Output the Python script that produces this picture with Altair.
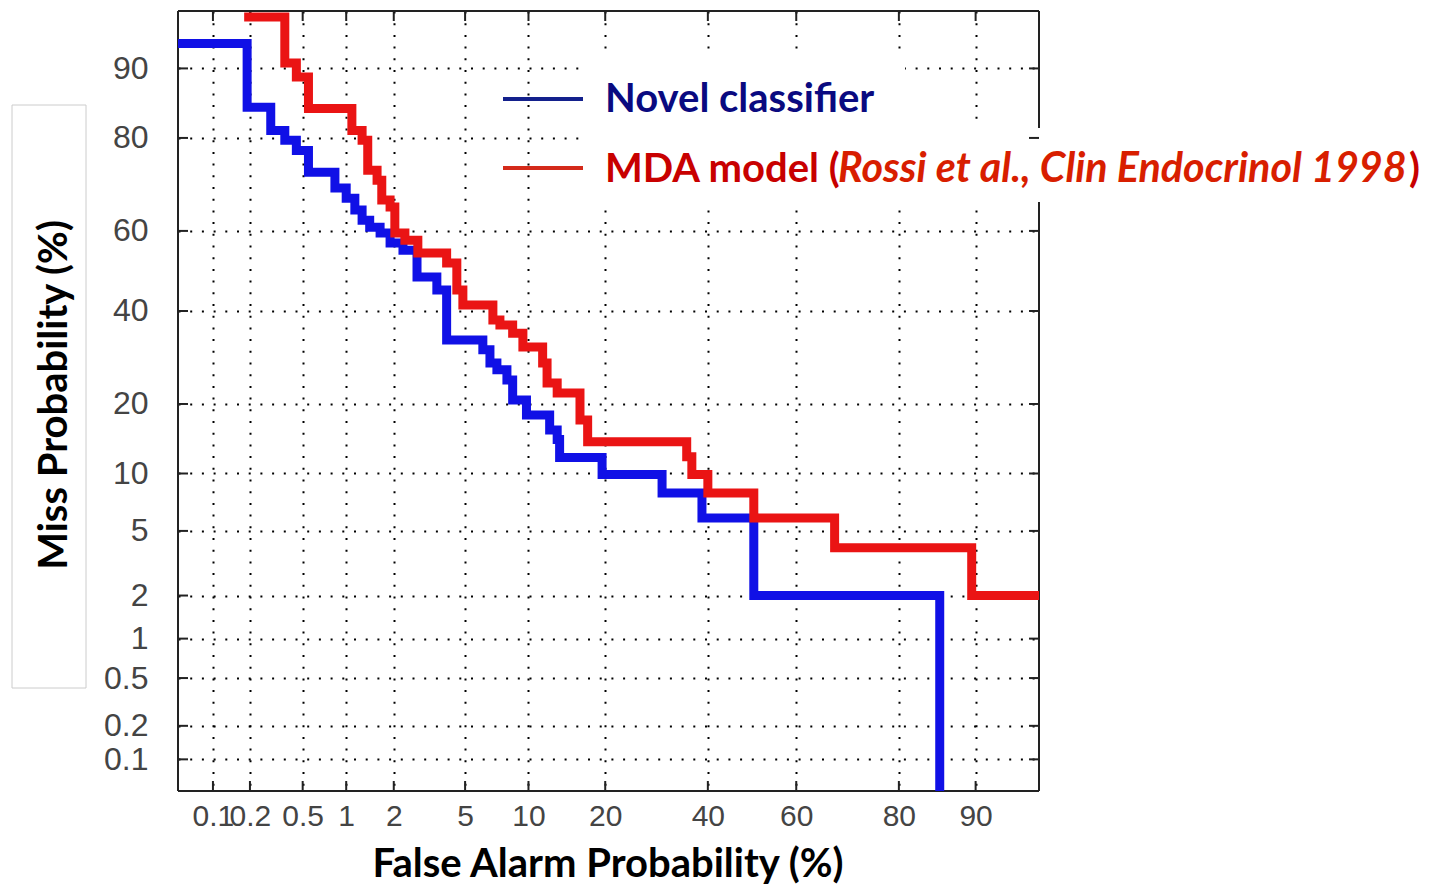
import altair as alt
import pandas as pd
from statistics import NormalDist

# ---------------- data (percentages) ----------------
tick_pct = [0.1, 0.2, 0.5, 1, 2, 5, 10, 20, 40, 60, 80, 90]
tick_lbl = ["0.1", "0.2", "0.5", "1", "2", "5", "10", "20", "40", "60", "80", "90"]

# Novel classifier: (false alarm %, miss %) at the start of each horizontal step
blue_fa = [0.02, 0.19, 0.29, 0.37, 0.45, 0.55, 0.84, 1.0, 1.14, 1.27, 1.42, 1.65,
           1.9, 2.27, 2.74, 3.54, 4.0, 6.14, 6.65, 7.18, 8.0, 8.5, 9.8, 12.3,
           13.2, 13.5, 19.5, 30.3, 38.7, 50.4, 85.9]
blue_miss = [92.5, 85.0, 81.3, 79.6, 77.7, 73.4, 70.0, 67.7, 65.0, 62.6, 60.9, 59.5,
             57.0, 55.2, 48.5, 45.2, 33.1, 30.9, 28.0, 26.6, 24.5, 20.7, 18.1, 15.7,
             14.3, 11.9, 9.9, 8.0, 5.9, 2.0, 0.02]

# MDA model
red_fa = [0.18, 0.37, 0.45, 0.55, 1.09, 1.27, 1.38, 1.58, 1.69, 1.9, 2.03, 2.33,
          2.77, 4.0, 4.53, 4.87, 6.87, 7.42, 8.5, 9.45, 11.5, 12.0, 13.2, 16.2,
          17.3, 35.4, 36.5, 40.0, 50.4, 68.2, 89.6, 99.0]
red_miss = [94.6, 90.6, 89.0, 84.8, 81.3, 79.6, 73.8, 71.7, 67.3, 65.7, 59.5, 57.7,
            54.5, 52.0, 45.2, 41.5, 37.8, 36.6, 34.7, 31.5, 28.0, 23.9, 22.0, 17.3,
            14.0, 12.0, 9.9, 8.0, 5.9, 4.0, 2.0, 2.0]

domain_pct = [0.05, 95]

# ---------------- normal-deviate (DET) transform ----------------
nd = NormalDist()


def probit(p):
    return nd.inv_cdf(p / 100.0)


W, H = 861, 780
dom = [probit(domain_pct[0]), probit(domain_pct[1])]
tick_z = [probit(p) for p in tick_pct]

label_expr = "''"
for z, l in reversed(list(zip(tick_z, tick_lbl))):
    label_expr = f"abs(datum.value - ({z:.6f})) < 0.0001 ? '{l}' : " + label_expr


def curve_df(fa, miss):
    return pd.DataFrame({
        "zx": [probit(v) for v in fa],
        "zy": [probit(v) for v in miss],
        "i": list(range(len(fa))),
    })


df_blue = curve_df(blue_fa, blue_miss)
df_red = curve_df(red_fa, red_miss)
df_ticks = pd.DataFrame({"zx": tick_z, "zy": tick_z})
one = pd.DataFrame({"a": [0]})

xs = alt.Scale(domain=dom, nice=False, zero=False)
ys = alt.Scale(domain=dom, nice=False, zero=False)

axis_common = dict(
    values=tick_z, labelExpr=label_expr, grid=True, ticks=False, tickSize=0,
    domain=False, labelFont="Liberation Sans",
    labelColor="#444444", labelOverlap=False, labelBound=False,
    gridColor="#000000", gridWidth=2, gridDash=[2, 9.7], gridOpacity=1,
    title=None,
)
x_axis = alt.Axis(orient="bottom", labelPadding=10, labelFontSize=30, **axis_common)
y_axis = alt.Axis(orient="left", labelPadding=30, labelFontSize=32, **axis_common)


def X():
    return alt.X("zx:Q", scale=xs, axis=x_axis, title=None)


def Y():
    return alt.Y("zy:Q", scale=ys, axis=y_axis, title=None)


grid_layer = alt.Chart(df_ticks).mark_point(opacity=0).encode(x=X(), y=Y())

# inward ticks on all four sides
tick_col = "#222222"
tb = alt.Chart(df_ticks).mark_rule(color=tick_col, strokeWidth=2).encode(
    x=X(), y=alt.value(H - 10), y2=alt.value(H))
tt = alt.Chart(df_ticks).mark_rule(color=tick_col, strokeWidth=2).encode(
    x=X(), y=alt.value(0), y2=alt.value(10))
tl = alt.Chart(df_ticks).mark_rule(color=tick_col, strokeWidth=2).encode(
    y=Y(), x=alt.value(0), x2=alt.value(10))
tr = alt.Chart(df_ticks).mark_rule(color=tick_col, strokeWidth=2).encode(
    y=Y(), x=alt.value(W - 10), x2=alt.value(W))

# plot frame
bcol = "#222222"
frame = [
    alt.Chart(one).mark_rule(color=bcol, strokeWidth=2).encode(
        x=alt.value(0), x2=alt.value(W), y=alt.value(0)),
    alt.Chart(one).mark_rule(color=bcol, strokeWidth=2).encode(
        x=alt.value(0), x2=alt.value(W), y=alt.value(H)),
    alt.Chart(one).mark_rule(color=bcol, strokeWidth=2).encode(
        x=alt.value(0), y=alt.value(0), y2=alt.value(H)),
    alt.Chart(one).mark_rule(color=bcol, strokeWidth=2).encode(
        x=alt.value(W), y=alt.value(0), y2=alt.value(H)),
]

# white boxes behind the legend
box1 = alt.Chart(one).mark_rect(fill="white").encode(
    x=alt.value(405), x2=alt.value(727), y=alt.value(44), y2=alt.value(117))
box2 = alt.Chart(one).mark_rect(fill="white").encode(
    x=alt.value(405), x2=alt.value(872), y=alt.value(117), y2=alt.value(191))

# curves
blue_line = alt.Chart(df_blue).mark_line(
    interpolate="step-after", color="#1010e6", strokeWidth=9,
    clip=True, strokeJoin="miter", strokeCap="butt").encode(
    x=X(), y=Y(), order="i:Q")
red_line = alt.Chart(df_red).mark_line(
    interpolate="step-after", color="#ea1414", strokeWidth=9,
    clip=True, strokeJoin="miter", strokeCap="butt").encode(
    x=X(), y=Y(), order="i:Q")

# legend
leg_blue = alt.Chart(one).mark_rule(color="#13208c", strokeWidth=4).encode(
    x=alt.value(325), x2=alt.value(405), y=alt.value(88))
leg_red = alt.Chart(one).mark_rule(color="#d42a1a", strokeWidth=4).encode(
    x=alt.value(325), x2=alt.value(405), y=alt.value(157))
txt_kw = dict(font="Lato", fontWeight="bold", align="left", baseline="alphabetic")
t_novel = alt.Chart(one).mark_text(text="Novel classifier", color="#0a0a80",
                                   fontSize=40, **txt_kw).encode(
    x=alt.value(427), y=alt.value(101))
t_mda = alt.Chart(one).mark_text(text="MDA model (", color="#c80000",
                                 fontSize=40, **txt_kw).encode(
    x=alt.value(427), y=alt.value(171))
t_ref = alt.Chart(one).mark_text(text="Rossi et al., Clin Endocrinol 1998",
                                 color="#d81e00", fontStyle="italic",
                                 fontSize=41.3, **txt_kw).encode(
    x=alt.value(660), y=alt.value(171))
t_close = alt.Chart(one).mark_text(text=")", color="#c80000",
                                   font="Lato", fontSize=40, fontWeight="bold",
                                   align="right", baseline="alphabetic").encode(
    x=alt.value(1242), y=alt.value(171))

# axis titles
y_title = alt.Chart(one).mark_text(text="Miss Probability (%)", font="Lato",
                                   fontSize=40, fontWeight="bold", angle=270,
                                   align="center", baseline="middle",
                                   color="black").encode(
    x=alt.value(-123), y=alt.value(384))
y_box = alt.Chart(one).mark_rect(fill="transparent", stroke="#cccccc",
                                 strokeWidth=1).encode(
    x=alt.value(-166), x2=alt.value(-92), y=alt.value(94), y2=alt.value(677))
x_title = alt.Chart(one).mark_text(text="False Alarm Probability (%)", font="Lato",
                                   fontSize=40, fontWeight="bold",
                                   align="center", baseline="alphabetic",
                                   color="black").encode(
    x=alt.value(430), y=alt.value(866))

chart = alt.layer(
    grid_layer, *frame, box1, box2, tb, tt, tl, tr,
    blue_line, red_line, leg_blue, leg_red,
    t_novel, t_mda, t_ref, t_close, y_box, y_title, x_title,
).properties(
    width=W, height=H,
    autosize=alt.AutoSizeParams(type="none"),
    padding={"left": 170, "top": 3, "right": 384, "bottom": 94},
    background="white",
).configure_view(stroke="transparent")

chart.save("out.html", embed_options={"renderer": "svg", "actions": False})
